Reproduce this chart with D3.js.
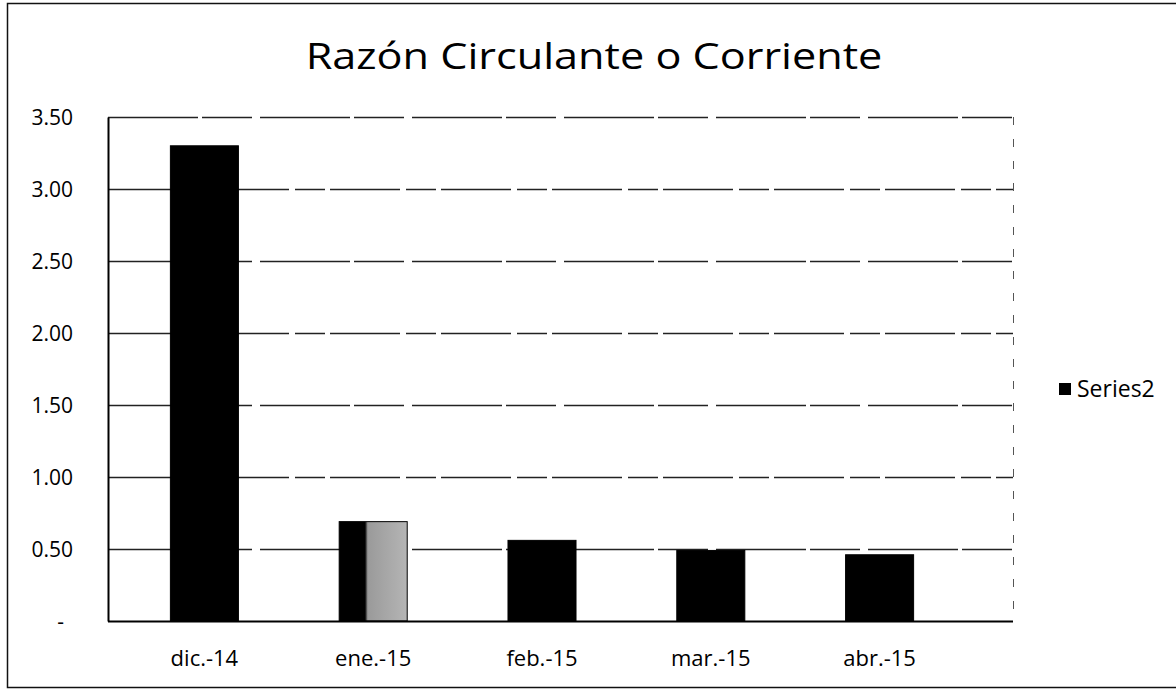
<!DOCTYPE html>
<html>
<head>
<meta charset="utf-8">
<script src="https://cdn.jsdelivr.net/npm/d3@7"></script>
<style>
  body { margin: 0; background: #fff; }
  text { font-family: "Open Sans", "Noto Sans", sans-serif; fill: #000; }
</style>
</head>
<body>
<div id="chart"></div>
<script>
const width = 1176;
const height = 691;

// Data
const categories = ["dic.-14", "ene.-15", "feb.-15", "mar.-15", "abr.-15"];
const values = [3.30, 0.69, 0.56, 0.49, 0.46];
const yTicks = [0, 0.5, 1, 1.5, 2, 2.5, 3, 3.5];
const yTickLabels = ["-", "0.50", "1.00", "1.50", "2.00", "2.50", "3.00", "3.50"];
const seriesName = "Series2";
const title = "Razón Circulante o Corriente";

// Plot area
const plotLeft = 108, plotRight = 1013, plotTop = 117, plotBottom = 621;

const x = d3.scaleBand().domain(categories).range([120, 964]).paddingInner(0.597).paddingOuter(0.2985);
const y = d3.scaleLinear().domain([0, 3.5]).range([plotBottom, plotTop]);

const svg = d3.select("#chart").append("svg")
    .attr("width", width)
    .attr("height", height);

// scanned look of the second bar: half solid, half faded
const grad = svg.append("defs").append("linearGradient")
    .attr("id", "fade")
    .attr("x1", "0").attr("x2", "1").attr("y1", "0").attr("y2", "0");
grad.append("stop").attr("offset", "0.38").attr("stop-color", "#000");
grad.append("stop").attr("offset", "0.42").attr("stop-color", "#9a9a9a");
grad.append("stop").attr("offset", "1").attr("stop-color", "#b5b5b5");

// outer frame (right edge runs off the picture)
svg.append("rect")
    .attr("x", 7.5).attr("y", 3.5)
    .attr("width", 1200).attr("height", 684)
    .attr("fill", "none")
    .attr("stroke", "#111")
    .attr("stroke-width", 1.5);

// title, stretched a bit like the scan
svg.append("text")
    .attr("transform", "translate(594,69) scale(1.2,1)")
    .attr("text-anchor", "middle")
    .style("font-size", "36px")
    .text(title);

// gridlines
svg.append("g")
    .selectAll("line")
    .data(yTicks.slice(1))
    .enter()
    .append("line")
    .attr("x1", plotLeft)
    .attr("x2", plotRight)
    .attr("y1", d => Math.round(y(d)) + 0.5)
    .attr("y2", d => Math.round(y(d)) + 0.5)
    .attr("stroke", "#222")
    .attr("stroke-width", 1.5)
    .attr("stroke-dasharray", (d, i) => i % 2 ? "70,6,30,5" : "90,4,50,8");

// right border of plot area (faint)
svg.append("line")
    .attr("x1", plotRight + 0.5).attr("x2", plotRight + 0.5)
    .attr("y1", plotTop).attr("y2", plotBottom)
    .attr("stroke", "#555")
    .attr("stroke-width", 1)
    .attr("stroke-dasharray", "8,14");

// bars
svg.append("g")
    .selectAll("rect")
    .data(values)
    .enter()
    .append("rect")
    .attr("x", (d, i) => x(categories[i]))
    .attr("y", d => y(d))
    .attr("width", x.bandwidth())
    .attr("height", d => plotBottom - y(d))
    .attr("fill", (d, i) => i === 1 ? "url(#fade)" : "#000")
    .attr("stroke", "#000")
    .attr("stroke-width", 1);

// y axis
const yAxis = d3.axisLeft(y)
    .tickValues(yTicks)
    .tickFormat((d, i) => yTickLabels[i])
    .tickSize(0)
    .tickPadding(35);

const gy = svg.append("g")
    .attr("transform", `translate(${plotLeft},0)`)
    .call(yAxis);
gy.select(".domain").attr("stroke", "#000").attr("stroke-width", 2);
gy.selectAll("text")
    .style("font-size", "21px")
    .attr("dy", "0.35em")
    .attr("dx", (d, i) => i === 0 ? -9 : 0);

// x axis
const xAxis = d3.axisBottom(x).tickSize(0).tickPadding(29);
const gx = svg.append("g")
    .attr("transform", `translate(0,${plotBottom})`)
    .call(xAxis);
gx.select(".domain").remove();
svg.append("line")
    .attr("x1", plotLeft).attr("x2", plotRight)
    .attr("y1", plotBottom + 0.5).attr("y2", plotBottom + 0.5)
    .attr("stroke", "#000")
    .attr("stroke-width", 2);
gx.selectAll("text").style("font-size", "22px");

// legend
const legend = svg.append("g").attr("transform", "translate(1059,383)");
legend.append("rect")
    .attr("x", 0).attr("y", 0)
    .attr("width", 12).attr("height", 12)
    .attr("fill", "#000");
legend.append("text")
    .attr("x", 18)
    .attr("y", 14)
    .style("font-size", "23px")
    .text(seriesName);
</script>
</body>
</html>
